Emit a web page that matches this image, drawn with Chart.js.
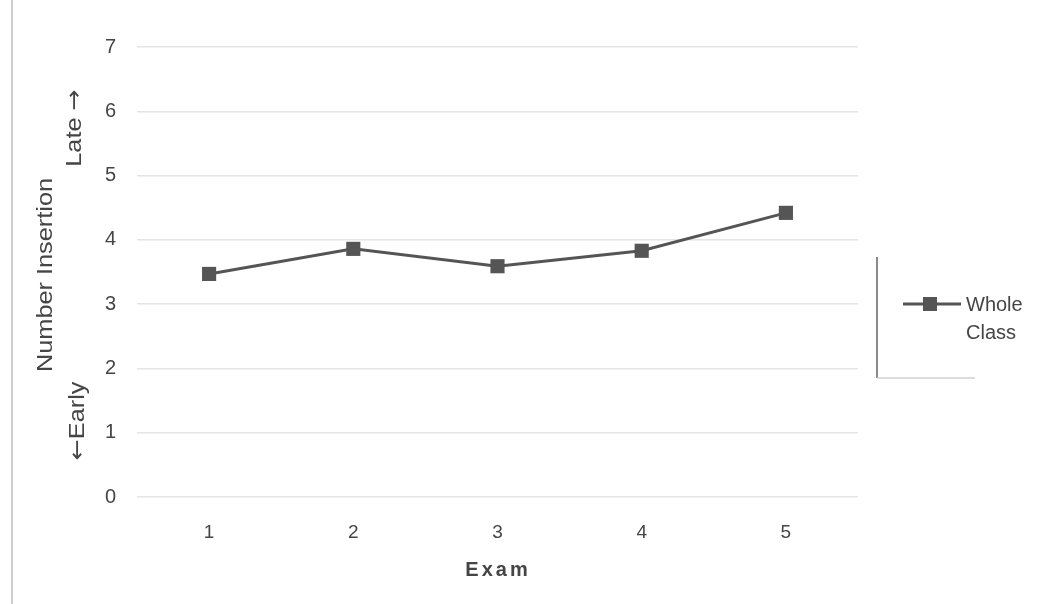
<!DOCTYPE html>
<html>
<head>
<meta charset="utf-8">
<script src="https://cdn.jsdelivr.net/npm/chart.js@4"></script>
<style>
  html, body { margin: 0; padding: 0; background: #fff; }
  #wrap { width: 1041px; height: 604px; }
</style>
</head>
<body>
<div id="wrap"><canvas id="examChart" width="1041" height="604"></canvas></div>
<script>
// データ
const exams = ['1', '2', '3', '4', '5'];
const wholeClass = [3.47, 3.86, 3.59, 3.83, 4.42];
const seriesName = ['Whole', 'Class'];
const yTicks = [0, 1, 2, 3, 4, 5, 6, 7];

const FONT = '"Liberation Sans", Arial, sans-serif';
const ARROW_FONT = '"DejaVu Sans", sans-serif';
const INK = '#454545';
const LINE = '#555';

// 縦書き(回転)テキスト: parts = [[文字, フォント], ...]
function drawVertical(ctx, parts, cx, cy, stretch) {
    let total = 0;
    const widths = parts.map(p => {
        ctx.font = p[1];
        const w = ctx.measureText(p[0]).width;
        total += w;
        return w;
    });
    ctx.save();
    ctx.translate(cx, cy);
    ctx.rotate(-Math.PI / 2);
    ctx.scale(stretch, 1);
    ctx.textAlign = 'left';
    ctx.textBaseline = 'middle';
    let x = -total / 2;
    parts.forEach((p, i) => {
        ctx.font = p[1];
        ctx.fillText(p[0], x, 0);
        x += widths[i];
    });
    ctx.restore();
}

// 軸タイトルと凡例を描くプラグイン
const decorations = {
    id: 'decorations',
    afterDraw(chart) {
        const ctx = chart.ctx;
        ctx.save();

        // 左端の薄い線
        ctx.strokeStyle = '#cdcdcd';
        ctx.lineWidth = 2;
        ctx.beginPath();
        ctx.moveTo(12, 0);
        ctx.lineTo(12, 604);
        ctx.stroke();

        ctx.fillStyle = INK;

        // y軸タイトル
        const f = '22px ' + FONT;
        const a = '22px ' + ARROW_FONT;
        drawVertical(ctx, [['Number Insertion', f]], 46, 275, 1.15);
        drawVertical(ctx, [['Late ', f], ['\u2192', a]], 75, 128, 1.15);
        drawVertical(ctx, [['\u2190', a], ['Early', f]], 78, 421, 1.15);

        // x軸タイトル
        ctx.textAlign = 'center';
        ctx.textBaseline = 'middle';
        ctx.font = 'bold 20px ' + FONT;
        ctx.letterSpacing = '3px';
        ctx.fillText('Exam', 498, 570);
        ctx.letterSpacing = '0px';

        // 凡例の枠
        ctx.strokeStyle = '#8a8a8a';
        ctx.lineWidth = 2;
        ctx.beginPath();
        ctx.moveTo(877, 257);
        ctx.lineTo(877, 378);
        ctx.stroke();
        ctx.strokeStyle = '#d2d2d2';
        ctx.lineWidth = 1.5;
        ctx.beginPath();
        ctx.moveTo(877, 378);
        ctx.lineTo(975, 378);
        ctx.stroke();

        // 凡例
        ctx.strokeStyle = LINE;
        ctx.lineWidth = 3;
        ctx.beginPath();
        ctx.moveTo(903, 304);
        ctx.lineTo(961, 304);
        ctx.stroke();
        ctx.fillStyle = LINE;
        ctx.fillRect(923, 297, 14, 14);

        ctx.fillStyle = INK;
        ctx.font = '20px ' + FONT;
        ctx.textAlign = 'left';
        ctx.fillText(seriesName[0], 966, 305);
        ctx.fillText(seriesName[1], 966, 333);

        ctx.restore();
    }
};

new Chart(document.getElementById('examChart'), {
    type: 'line',
    data: {
        labels: exams,
        datasets: [{
            label: seriesName.join(' '),
            data: wholeClass,
            borderColor: LINE,
            borderWidth: 3,
            pointStyle: 'rect',
            pointRadius: 10,
            pointBackgroundColor: LINE,
            pointBorderColor: LINE,
            pointBorderWidth: 0,
            tension: 0,
            fill: false
        }]
    },
    options: {
        responsive: false,
        animation: false,
        layout: { padding: { left: 87, right: 183, top: 47, bottom: 47 } },
        plugins: {
            legend: { display: false },
            tooltip: { enabled: false }
        },
        scales: {
            x: {
                offset: true,
                grid: { display: false, drawTicks: false },
                border: { display: false },
                ticks: {
                    color: INK,
                    font: { family: FONT, size: 19 },
                    padding: 24
                },
                afterFit(scale) { scale.height = 60; }
            },
            y: {
                min: 0,
                max: 7,
                afterBuildTicks(scale) {
                    scale.ticks = yTicks.map(v => ({ value: v }));
                },
                grid: { color: '#e4e4e4', lineWidth: 1.5, drawTicks: false },
                border: { display: false },
                ticks: {
                    color: INK,
                    font: { family: FONT, size: 20 },
                    padding: 21
                },
                afterFit(scale) { scale.width = 50; }
            }
        }
    },
    plugins: [decorations]
});
</script>
</body>
</html>
